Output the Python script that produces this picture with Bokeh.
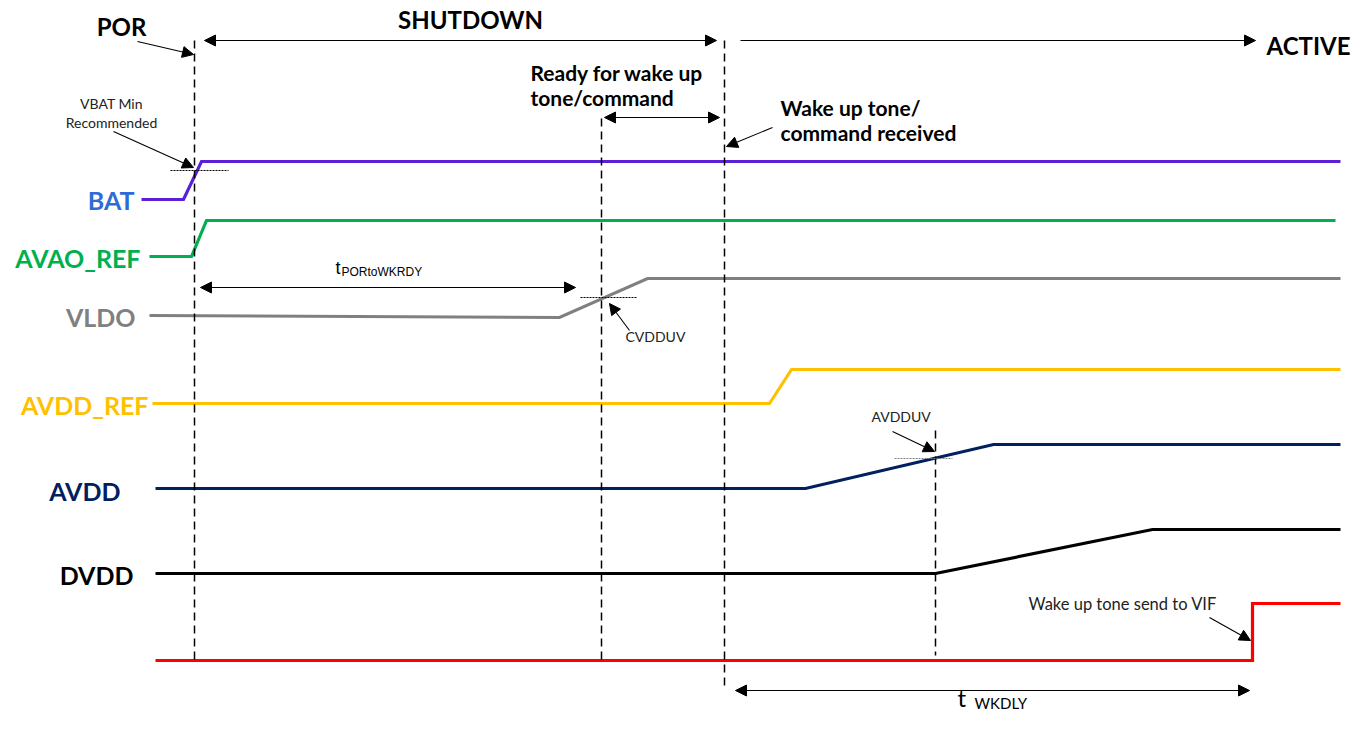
from bokeh.plotting import figure
from bokeh.models import Range1d, Arrow, NormalHead, ColumnDataSource
from bokeh.core.properties import value
from bokeh.embed import file_html
from bokeh.resources import INLINE

# ---------------- data: waveform breakpoints (time, level) ----------------
BAT_T = [141, 183, 201, 1340]
BAT_V = [199, 199, 161, 161]
AVAO_T = [149, 191, 206, 1335]
AVAO_V = [256, 256, 220, 220]
VLDO_T = [149, 559, 647, 1340]
VLDO_V = [315, 317, 278, 278]
AVDDREF_T = [152, 769, 791, 1340]
AVDDREF_V = [403, 403, 369, 369]
AVDD_T = [155, 805, 993, 1340]
AVDD_V = [488, 488, 444, 444]
DVDD_T = [155, 935, 1152, 1340]
DVDD_V = [573, 573, 529, 529]
VIF_T = [155, 1252, 1252, 1340]
VIF_V = [660, 660, 603, 603]

SIGNAL_NAMES = ["BAT", "AVAO_REF", "VLDO", "AVDD_REF", "AVDD", "DVDD"]

# event markers (time)
EVENT_T = [194, 601, 724, 935]

FONT = "Lato"

p = figure(width=1351, height=714, output_backend="svg", toolbar_location=None,
           x_range=Range1d(0, 1351), y_range=Range1d(714, 0), min_border=0,
           background_fill_color="white", border_fill_color="white")
p.axis.visible = False
p.grid.visible = False
p.outline_line_color = None

# ---------------- waveforms ----------------
waves = [
    (BAT_T, BAT_V, "#5B1FD6"),
    (AVAO_T, AVAO_V, "#00B050"),
    (VLDO_T, VLDO_V, "#808080"),
    (AVDDREF_T, AVDDREF_V, "#FFC000"),
    (AVDD_T, AVDD_V, "#002060"),
    (DVDD_T, DVDD_V, "#000000"),
    (VIF_T, VIF_V, "#FF0000"),
]
for t, v, c in waves:
    p.line(t, v, line_color=c, line_width=3.2, line_join="miter")

# ---------------- dashed event lines ----------------
dash_y0 = [40, 118, 40, 430]
dash_y1 = [660, 660, 688, 655]
for x, y0, y1 in zip(EVENT_T, dash_y0, dash_y1):
    p.line([x, x], [y0, y1], line_color="black", line_width=1.5, line_dash="8 5")

# ---------------- dotted threshold lines ----------------
p.line([170, 228], [170, 170], line_color="black", line_width=1, line_dash="2 1")
p.line([580, 636], [297, 297], line_color="black", line_width=1, line_dash="2 1")
p.line([894, 952], [458, 458], line_color="#808080", line_width=1, line_dash="2 1")

# ---------------- arrows ----------------
def head():
    return NormalHead(size=11, fill_color="black", line_color="black", line_width=1)

double_arrows = [
    (204, 40, 716, 40),
    (604, 117, 719, 117),
    (200, 287, 575, 287),
    (735, 690, 1249, 690),
]
for x0, y0, x1, y1 in double_arrows:
    p.add_layout(Arrow(start=head(), end=head(), x_start=x0, y_start=y0, x_end=x1, y_end=y1,
                       line_color="black", line_width=1.2))

single_arrows = [
    (740, 40, 1255, 40),
    (137, 41, 193, 54),
    (113, 131, 193, 167),
    (772, 127, 726, 146),
    (629, 330, 609, 303),
    (892, 431, 934, 451),
    (1209, 617, 1250, 640),
]
for x0, y0, x1, y1 in single_arrows:
    p.add_layout(Arrow(end=head(), x_start=x0, y_start=y0, x_end=x1, y_end=y1,
                       line_color="black", line_width=1.1))

# ---------------- signal labels ----------------
lab = ColumnDataSource(dict(
    x=[134, 140, 135, 148, 120, 133],
    y=[199, 257, 316, 404, 490, 574],
    t=SIGNAL_NAMES,
    c=["#2F6BD6", "#00B050", "#808080", "#FFC000", "#002060", "#000000"],
))
p.text(x="x", y="y", text="t", text_color="c", source=lab, text_align="right",
       text_baseline="middle", text_font=value(FONT), text_font_style="bold",
       text_font_size="25px")

# state labels
p.text(x=[121, 470], y=[26, 19], text=["POR", "SHUTDOWN"], text_align="center",
       text_baseline="middle", text_font=value(FONT), text_font_style="bold",
       text_font_size="24px", text_color="black")
p.text(x=[1350], y=[45], text=["ACTIVE"], text_align="right",
       text_baseline="middle", text_font=value(FONT), text_font_style="bold",
       text_font_size="24px", text_color="black")

# bold annotations
p.text(x=[530, 530, 780, 780], y=[72, 97, 107, 132],
       text=["Ready for wake up", "tone/command", "Wake up tone/", "command received"],
       text_align="left", text_baseline="middle", text_font=value(FONT),
       text_font_style="bold", text_font_size="21px", text_color="black")

# small annotations
p.text(x=[111, 111], y=[103, 122], text=["VBAT Min", "Recommended"], text_align="center",
       text_baseline="middle", text_font=value(FONT), text_font_size="14px", text_color="#222222")
p.text(x=[625, 871], y=[336, 416], text=["CVDDUV", "AVDDUV"], text_align="left",
       text_baseline="middle", text_font=value(FONT), text_font_size="14px", text_color="#222222")
p.text(x=[1028], y=[603], text=["Wake up tone send to VIF"], text_align="left",
       text_baseline="middle", text_font=value(FONT), text_font_size="16.5px", text_color="#222222")

# timing parameter labels
p.text(x=[335], y=[267], text=["t"], text_align="left", text_baseline="middle",
       text_font=value("Liberation Sans"), text_font_size="18px", text_color="black")
p.text(x=[341], y=[271], text=["PORtoWKRDY"], text_align="left", text_baseline="middle",
       text_font=value("Liberation Sans"), text_font_size="12px", text_color="black")
p.text(x=[957], y=[697], text=["t"], text_align="left", text_baseline="middle",
       text_font=value(FONT), text_font_size="24px", text_color="black")
p.text(x=[974], y=[702], text=["WKDLY"], text_align="left", text_baseline="middle",
       text_font=value(FONT), text_font_size="15px", text_color="black")

open("out.html", "w").write(file_html(p, INLINE))
